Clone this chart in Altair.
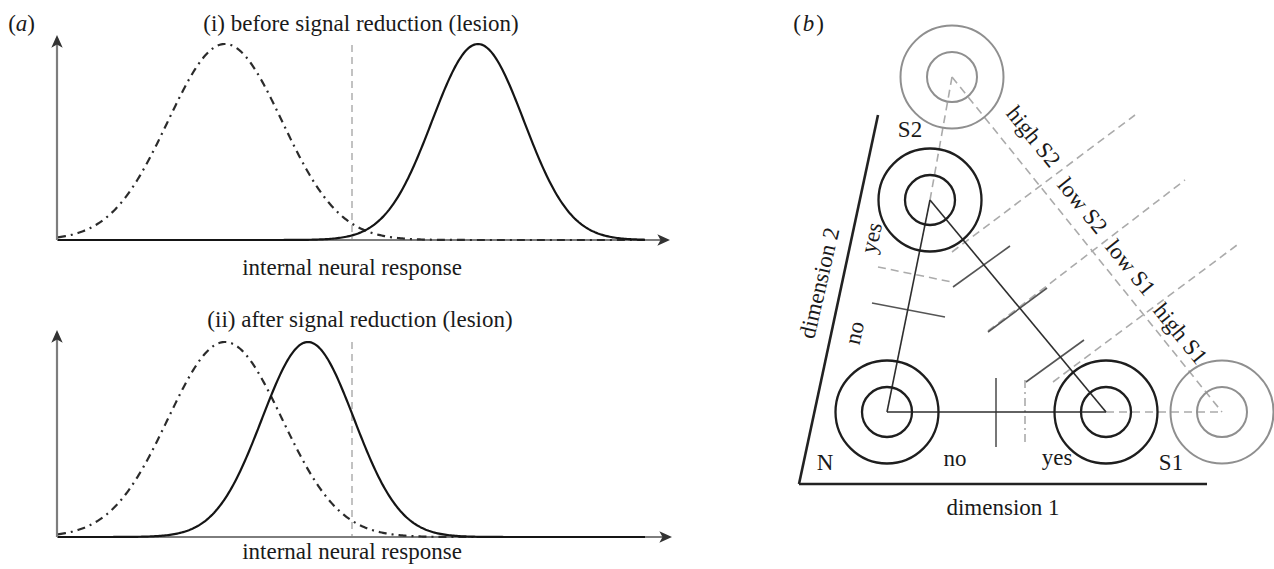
import numpy as np
import pandas as pd
import altair as alt

FIG_W, FIG_H = 1274, 569
FONT = "Liberation Serif"
FS = 23
INK = "#1a1a1a"

# ---------------- panel (a): two signal-detection sketches ----------------
a_baseline = [240, 537]          # y of the response axis in each sub-panel
a_peak_height = [196, 195]
a_noise_mean = [225, 225]
a_noise_sd = [57, 57]
a_signal_mean = [478, 308]
a_signal_sd = [46, 46]
a_curve_from = 58
a_curve_to = 645
a_axis_left = 57
a_axis_top = [35, 330]
a_axis_right = [670, 672]
a_criterion_x = [352, 352]
a_criterion_top = [45, 342]

# ---------------- panel (b): 2-D decision space ----------------
pt_name = ["N", "S1", "S2", "S1p", "S2p"]
pt_x = [887, 1106, 930, 1222, 952]
pt_y = [412, 412, 200, 412, 77]
pt_grey = [False, False, False, True, True]
ring_radius = [25, 51.5]

triangle_edges = [("N", "S1"), ("N", "S2"), ("S2", "S1")]
extension_edges = [("S1", "S1p"), ("S2", "S2p"), ("S2p", "S1p")]

# dashed criterion lines (x1, y1, x2, y2)
crit_x1 = [952, 988, 1053, 878]
crit_y1 = [252, 331, 382, 267]
crit_x2 = [1135, 1185, 1237, 952]
crit_y2 = [115, 180, 245, 282]

# dark tick marks across the edges
tick_x1 = [996, 872, 953, 988, 1026]
tick_y1 = [378, 303, 287, 332, 382]
tick_x2 = [996, 945, 1010, 1047, 1084]
tick_y2 = [447, 317, 246, 288, 340]

# dash-dot vertical criterion
dd_x1, dd_y1, dd_x2, dd_y2 = [1025], [380], [1025], [445]

# dimension axes
dim_x1 = [799, 799]
dim_y1 = [484, 484]
dim_x2 = [1207, 878]
dim_y2 = [484, 115]

# ---------------- text ----------------
text_label = ["(i) before signal reduction (lesion)", "internal neural response",
              "(ii) after signal reduction (lesion)", "internal neural response",
              "dimension 1", "N", "no", "yes", "S1", "S2", "(", ")", "(", ")"]
text_x = [361, 352, 360, 352, 1003, 825, 955, 1057, 1171, 910, 12, 31, 797, 820]
text_y = [31, 275, 327, 559, 515, 470, 466, 465, 470, 137, 31, 31, 31, 31]
ital_label = ["a", "b"]
ital_x = [21.5, 808.5]
ital_y = [31, 31]
rot_label = ["dimension 2", "yes", "no", "high S2", "low S2", "low S1", "high S1"]
rot_x = [820, 872, 855, 1033, 1082, 1130, 1180]
rot_y = [283, 238, 333, 137, 206, 268, 334]
rot_angle = [283, 283, 283, 51, 51, 51, 51]

# ---------------- build tables ----------------
rows = []
xs = np.linspace(a_curve_from, a_curve_to, 400)
for i in range(2):
    for kind, m, s in [("noise", a_noise_mean[i], a_noise_sd[i]),
                       ("signal", a_signal_mean[i], a_signal_sd[i])]:
        ys = a_baseline[i] - a_peak_height[i] * np.exp(-0.5 * ((xs - m) / s) ** 2)
        for k, (x, y) in enumerate(zip(xs, ys)):
            rows.append(dict(key=f"{i}-{kind}", kind=kind, order=k, x=x, y=y))
curves = pd.DataFrame(rows)

axes_a = pd.DataFrame({
    "x": [a_axis_left] * 2 + [a_axis_left] * 2,
    "y": [a_baseline[0], a_baseline[1], a_baseline[0], a_baseline[1]],
    "x2": [a_axis_left, a_axis_left, a_axis_right[0] - 3, a_axis_right[1] - 3],
    "y2": [a_axis_top[0] + 3, a_axis_top[1] + 3, a_baseline[0], a_baseline[1]],
})
arrows = pd.DataFrame({
    "x": [a_axis_left, a_axis_left, a_axis_right[0], a_axis_right[1]],
    "y": [a_axis_top[0], a_axis_top[1], a_baseline[0], a_baseline[1]],
    "angle": [270, 270, 0, 0],
})
criteria_a = pd.DataFrame({"x": a_criterion_x, "y": a_criterion_top,
                           "x2": a_criterion_x, "y2": a_baseline})

P = {n: (x, y) for n, x, y in zip(pt_name, pt_x, pt_y)}


def edges(pairs):
    return pd.DataFrame({"x": [P[a][0] for a, b in pairs], "y": [P[a][1] for a, b in pairs],
                         "x2": [P[b][0] for a, b in pairs], "y2": [P[b][1] for a, b in pairs]})


tri = edges(triangle_edges)
ext = edges(extension_edges)
crit = pd.DataFrame({"x": crit_x1, "y": crit_y1, "x2": crit_x2, "y2": crit_y2})
ticks = pd.DataFrame({"x": tick_x1, "y": tick_y1, "x2": tick_x2, "y2": tick_y2})
dd = pd.DataFrame({"x": dd_x1, "y": dd_y1, "x2": dd_x2, "y2": dd_y2})
dims = pd.DataFrame({"x": dim_x1, "y": dim_y1, "x2": dim_x2, "y2": dim_y2})

ring_rows = []
for n, x, y, g in zip(pt_name, pt_x, pt_y, pt_grey):
    for r in ring_radius:
        ring_rows.append(dict(x=x, y=y, grey=g, size=(2 * r) ** 2))
rings = pd.DataFrame(ring_rows)

texts = pd.DataFrame({"t": text_label, "x": text_x, "y": text_y})
itals = pd.DataFrame({"t": ital_label, "x": ital_x, "y": ital_y})
rots = pd.DataFrame({"t": rot_label, "x": rot_x, "y": rot_y, "angle": rot_angle})

# ---------------- encodings ----------------
X = alt.X("x:Q", scale=alt.Scale(domain=[0, FIG_W], nice=False, zero=False), axis=None)
Y = alt.Y("y:Q", scale=alt.Scale(domain=[0, FIG_H], nice=False, zero=False, reverse=True), axis=None)
X2 = alt.X2("x2:Q")
Y2 = alt.Y2("y2:Q")


def rules(df, color, width, dash=None):
    kw = dict(color=color, strokeWidth=width, strokeCap="butt")
    if dash:
        kw["strokeDash"] = dash
    return alt.Chart(df).mark_rule(**kw).encode(x=X, y=Y, x2=X2, y2=Y2)


layers = []
# panel (a)
layers.append(rules(criteria_a, "#b3b3b3", 1.6, [7, 5]))
layers.append(rules(axes_a, "#7d7d7d", 2.2))
layers.append(alt.Chart(arrows).mark_point(
    shape="M0,0 L-2,-0.9 L-1.5,0 L-2,0.9 Z", filled=True, color="#333333", opacity=1, size=160
).encode(x=X, y=Y, angle=alt.Angle("angle:Q", scale=None)))
layers.append(alt.Chart(curves[curves.kind == "noise"]).mark_line(
    color="#2b2b2b", strokeWidth=2.2, strokeDash=[8, 5, 2, 5]
).encode(x=X, y=Y, detail="key:N", order="order:Q"))
layers.append(alt.Chart(curves[curves.kind == "signal"]).mark_line(
    color="#151515", strokeWidth=2.2
).encode(x=X, y=Y, detail="key:N", order="order:Q"))

# panel (b)
layers.append(rules(ext, "#ababab", 1.6, [8, 5]))
layers.append(rules(crit, "#ababab", 1.6, [8, 5]))
layers.append(rules(dd, "#ababab", 1.6, [8, 4, 2, 4]))
layers.append(rules(ticks, "#555555", 1.6))
layers.append(rules(tri, "#2e2e2e", 1.6))
layers.append(rules(dims, "#222222", 2.6))
layers.append(alt.Chart(rings[~rings.grey]).mark_point(
    shape="circle", filled=False, color="#1e1e1e", strokeWidth=2.3, opacity=1
).encode(x=X, y=Y, size=alt.Size("size:Q", scale=None)))
layers.append(alt.Chart(rings[rings.grey]).mark_point(
    shape="circle", filled=False, color="#8f8f8f", strokeWidth=2.0, opacity=1
).encode(x=X, y=Y, size=alt.Size("size:Q", scale=None)))

# text
layers.append(alt.Chart(texts).mark_text(
    font=FONT, fontSize=FS, color=INK, align="center", baseline="alphabetic"
).encode(x=X, y=Y, text="t:N"))
layers.append(alt.Chart(itals).mark_text(
    font=FONT, fontSize=FS, color=INK, fontStyle="italic", align="center", baseline="alphabetic"
).encode(x=X, y=Y, text="t:N"))
layers.append(alt.Chart(rots).mark_text(
    font=FONT, fontSize=FS, color=INK, align="center", baseline="middle"
).encode(x=X, y=Y, text="t:N", angle=alt.Angle("angle:Q", scale=None)))

chart = alt.layer(*layers).properties(
    width=FIG_W, height=FIG_H, autosize="none", padding=0,
    background="white"
).configure_view(stroke=None)

chart.save("out.html", embed_options={"renderer": "svg", "actions": False})
